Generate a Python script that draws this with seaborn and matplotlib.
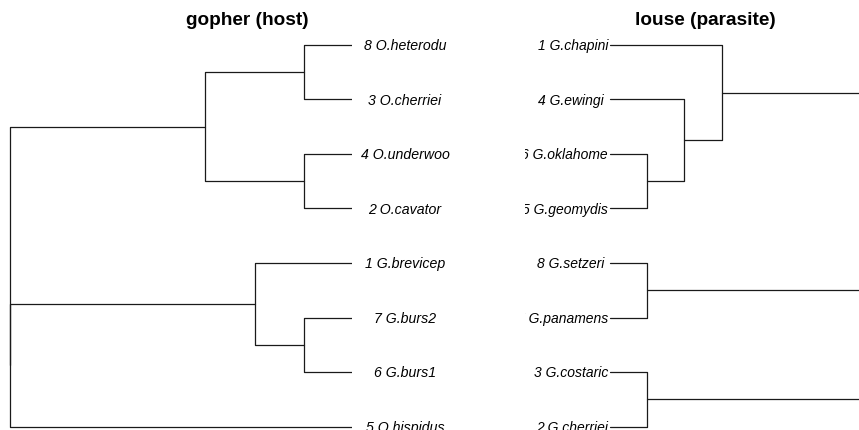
import matplotlib
matplotlib.use("Agg")
import matplotlib.pyplot as plt
import seaborn as sns
import pandas as pd

# Host tree (gophers): leaves listed top to bottom, merges as (left, right, height)
host_labels = ["8 O.heterodu", "3 O.cherriei", "4 O.underwoo", "2 O.cavator",
               "1 G.brevicep", "7 G.burs2", "6 G.burs1", "5 O.hispidus"]
host_left = [0, 2, 8, 5, 4, 12, 10]
host_right = [1, 3, 9, 6, 11, 7, 13]
host_height = [0.14, 0.14, 0.43, 0.14, 0.284, 1.0, 1.0]

# Parasite tree (lice)
louse_labels = ["1 G.chapini", "4 G.ewingi ", "6 G.oklahome", "5 G.geomydis",
                "8 G.setzeri ", "7 G.panamens", "3 G.costaric", "2 G.cherriei"]
louse_left = [2, 1, 0, 4, 6, 11, 10]
louse_right = [3, 8, 9, 5, 7, 12, 13]
louse_height = [0.108, 0.216, 0.327, 0.108, 0.108, 0.9, 1.0]

titles = ["gopher (host)", "louse (parasite)"]


def elbow_frame(n_leaves, left, right, height):
    """Build the elbow segments of a dendrogram (x = merge height, y = leaf slot)."""
    pos = {i: i + 1 for i in range(n_leaves)}
    hgt = {i: 0.0 for i in range(n_leaves)}
    rows = []
    for k, (a, b, h) in enumerate(zip(left, right, height)):
        ya, yb = pos[a], pos[b]
        for x, y in [(hgt[a], ya), (h, ya), (h, yb), (hgt[b], yb)]:
            rows.append({"x": x, "y": y, "seg": k})
        node = n_leaves + k
        pos[node] = (ya + yb) / 2
        hgt[node] = h
    return pd.DataFrame(rows)


sns.set_theme(style="white")
plt.rcParams["font.family"] = ["Liberation Sans", "DejaVu Sans"]

W, H = 859, 430
fig = plt.figure(figsize=(W / 100, H / 100), dpi=100)

# vertical mapping: leaf slot 1 sits 45 px from the top, slots 54.5 px apart
y_top = 1 - 45 / 54.5
y_bot = 1 + (H - 45) / 54.5
px_per_unit = 342.0

line_kw = dict(units="seg", estimator=None, sort=False, color="#1a1a1a",
               linewidth=0.9, legend=False)

# --- host dendrogram, root on the left, leaves pointing right ---
leaf_px = 352
ax1 = fig.add_axes([0, 0, leaf_px / W, 1])
ax1.set_xlim(leaf_px / px_per_unit, 0)
ax1.set_ylim(y_bot, y_top)
df_host = elbow_frame(len(host_labels), host_left, host_right, host_height)
sns.lineplot(data=df_host, x="x", y="y", ax=ax1, **line_kw)
ax1.axis("off")
label_x = -(405 - leaf_px) / px_per_unit
for i, lab in enumerate(host_labels):
    ax1.text(label_x, i + 1 + 0.1, lab, ha="center", va="baseline",
             fontsize=10.2, style="italic", color="black", clip_on=False)

# --- parasite dendrogram, leaves on the left, root off to the right ---
clip_px = 525
leaf2_px = 610
ax2 = fig.add_axes([clip_px / W, 0, 1 - clip_px / W, 1])
ax2.set_xlim(-(leaf2_px - clip_px) / px_per_unit, (W - leaf2_px) / px_per_unit)
ax2.set_ylim(y_bot, y_top)
df_louse = elbow_frame(len(louse_labels), louse_left, louse_right, louse_height)
sns.lineplot(data=df_louse, x="x", y="y", ax=ax2, **line_kw)
ax2.axis("off")
label2_x = -2 / px_per_unit
for i, lab in enumerate(louse_labels):
    t = ax2.text(label2_x, i + 1 + 0.1, lab, ha="right", va="baseline",
                 fontsize=10, style="italic", color="black")
    t.set_clip_box(ax2.bbox)
    t.set_clip_on(True)

fig.text(247.5 / W, 1 - 25 / H, titles[0], ha="center", va="baseline",
         fontsize=13.7, fontweight="bold", color="black")
fig.text(705 / W, 1 - 25 / H, titles[1], ha="center", va="baseline",
         fontsize=13.7, fontweight="bold", color="black")

fig.savefig("out.png", dpi=100, facecolor="white")
